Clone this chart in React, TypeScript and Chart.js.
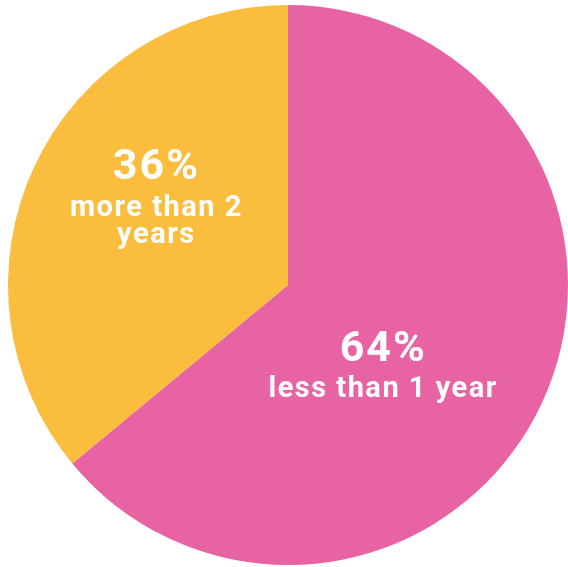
import React, { useEffect, useRef } from "react";
import { Chart, registerables } from "chart.js";

Chart.register(...registerables);

const categories = ["less than 1 year", "more than 2 years"];
const values = [64, 36];
const percentLabels = ["64%", "36%"];
const subLabels: string[][] = [["less than 1 year"], ["more than 2", "years"]];
const colors = ["#E863A4", "#FBBD3D"];

// label anchor offsets relative to pie center, as fraction of radius
const labelOffsets = [
  { dx: 0.34, dy: 0.27, lines: [0, 36] },
  { dx: -0.47, dy: -0.38, lines: [0, 37, 64] },
];

const labelPlugin = {
  id: "sliceLabels",
  afterDatasetsDraw(chart: any) {
    const meta = chart.getDatasetMeta(0);
    const ctx = chart.ctx;
    ctx.save();
    ctx.fillStyle = "#ffffff";
    ctx.textAlign = "center";
    ctx.textBaseline = "alphabetic";
    meta.data.forEach((arc: any, i: number) => {
      const { x, y, outerRadius } = arc.getProps(["x", "y", "outerRadius"], true);
      const o = labelOffsets[i];
      const cx = x + o.dx * outerRadius;
      const cy = y + o.dy * outerRadius;
      ctx.font = "bold 43px Roboto, 'DejaVu Sans', sans-serif";
      (ctx as any).letterSpacing = "2px";
      ctx.fillText(percentLabels[i], cx, cy + o.lines[0]);
      ctx.font = "bold 29px Roboto, 'DejaVu Sans', sans-serif";
      (ctx as any).letterSpacing = "1.5px";
      subLabels[i].forEach((t, j) => {
        ctx.fillText(t, cx, cy + o.lines[j + 1]);
      });
    });
    ctx.restore();
  },
};

export default function App() {
  const ref = useRef<HTMLCanvasElement>(null);
  useEffect(() => {
    if (!ref.current) return;
    const chart = new Chart(ref.current, {
      type: "pie",
      data: {
        labels: categories,
        datasets: [
          {
            data: values,
            backgroundColor: colors,
            borderWidth: 0,
          },
        ],
      },
      options: {
        responsive: false,
        animation: false,
        layout: { padding: 0 },
        plugins: {
          legend: { display: false },
          tooltip: { enabled: false },
        },
      },
      plugins: [labelPlugin],
    });
    return () => chart.destroy();
  }, []);
  return (
    <div
      style={{
        position: "fixed",
        left: 0,
        top: 0,
        width: 568,
        height: 567,
        overflow: "hidden",
        background: "#ffffff",
      }}
    >
      <canvas
        ref={ref}
        width={560}
        height={560}
        style={{ position: "absolute", left: 8, top: 5, width: 560, height: 560 }}
      />
    </div>
  );
}
